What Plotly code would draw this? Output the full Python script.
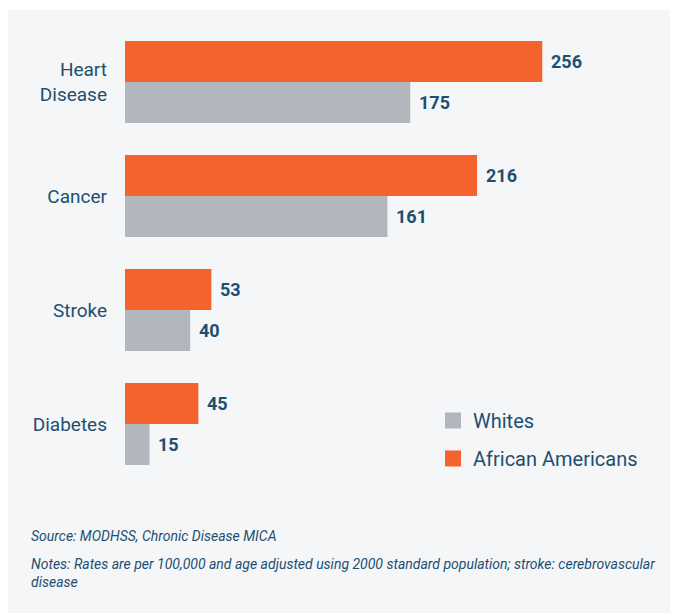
import plotly.graph_objects as go

categories = ["Heart<br>Disease", "Cancer", "Stroke", "Diabetes"]
african_americans = [256, 216, 53, 45]
whites = [175, 161, 40, 15]

ORANGE = "#f4632e"
GRAY = "#b1b7bd"
TEXT = "#1d4f71"
BG = "#f5f6f8"
FONT = "Roboto, Arial"

OFF = 8  # page offset of the figure inside the browser window
W, H = 678 - OFF, 614 - OFF
ML, MR, MT, MB = 125 - OFF, 64, 25 - OFF, 133
PW, PH = W - ML - MR, H - MT - MB

def px_x(px):
    # window pixel x -> paper x
    return (px - OFF - ML) / PW

def px_y(py):
    # window pixel y -> paper y
    return (H - MB - (py - OFF)) / PH

fig = go.Figure()
fig.add_trace(go.Bar(y=categories, x=african_americans, orientation="h",
                     marker=dict(color=ORANGE, line=dict(width=0)),
                     name="African Americans", showlegend=False))
fig.add_trace(go.Bar(y=categories, x=whites, orientation="h",
                     marker=dict(color=GRAY, line=dict(width=0)),
                     name="Whites", showlegend=False))
# legend entries
fig.add_trace(go.Scatter(x=[None], y=[None], mode="markers",
                         marker=dict(symbol="square", size=19, color=GRAY),
                         name="Whites", legendgroup="w"))
fig.add_trace(go.Scatter(x=[None], y=[None], mode="markers",
                         marker=dict(symbol="square", size=19, color=ORANGE),
                         name="African Americans", legendgroup="a"))

annotations = []
label_font = dict(family=FONT, size=18, color=TEXT, weight="bold")
for cat, aa, wh in zip(categories, african_americans, whites):
    annotations.append(dict(x=aa, y=cat, text=str(aa), xanchor="left", yanchor="middle",
                            xshift=7, yshift=20.5, showarrow=False, font=label_font))
    annotations.append(dict(x=wh, y=cat, text=str(wh), xanchor="left", yanchor="middle",
                            xshift=7, yshift=-20.5, showarrow=False, font=label_font))

annotations.append(dict(text="<i>Source: MODHSS, Chronic Disease MICA</i>",
                        xref="paper", yref="paper", x=px_x(29), y=px_y(536),
                        xanchor="left", yanchor="middle", showarrow=False,
                        font=dict(family=FONT, size=14, color=TEXT)))
annotations.append(dict(text="<i>Notes: Rates are per 100,000 and age adjusted using 2000 standard population; stroke: cerebrovascular<br>disease</i>",
                        xref="paper", yref="paper", x=px_x(29), y=px_y(554),
                        xanchor="left", yanchor="top", align="left", showarrow=False,
                        font=dict(family=FONT, size=14, color=TEXT)))

fig.update_layout(
    width=W, height=H,
    margin=dict(l=ML, r=MR, t=MT, b=MB, pad=0),
    paper_bgcolor="white", plot_bgcolor=BG,
    barmode="group", bargap=0.28, bargroupgap=0,
    font=dict(family=FONT, color=TEXT),
    xaxis=dict(range=[0, 300], visible=False, fixedrange=True),
    yaxis=dict(autorange="reversed", showgrid=False, zeroline=False, showline=False,
               ticks="", ticklabelstandoff=17,
               tickfont=dict(family=FONT, size=19, color=TEXT)),
    legend=dict(x=px_x(433), y=px_y(401), xanchor="left", yanchor="top",
                bgcolor="rgba(0,0,0,0)", font=dict(family=FONT, size=20, color=TEXT),
                tracegroupgap=9),
    shapes=[dict(type="rect", xref="paper", yref="paper", layer="below",
                 x0=px_x(OFF), x1=px_x(678),
                 y0=px_y(613), y1=px_y(10),
                 fillcolor=BG, line=dict(width=0))],
    annotations=annotations,
)

fig.write_html("out.html")
